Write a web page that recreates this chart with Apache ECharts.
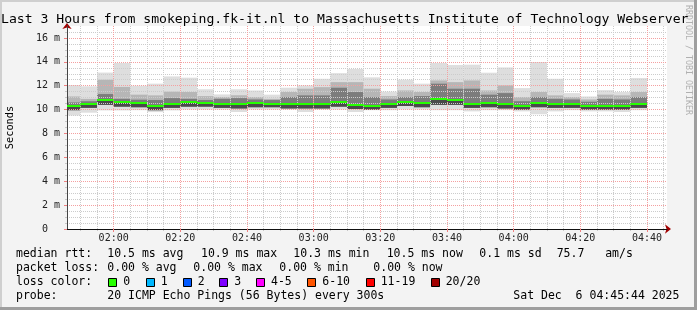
<!DOCTYPE html>
<html><head><meta charset="utf-8">
<script src="https://cdn.jsdelivr.net/npm/echarts@6/dist/echarts.min.js"></script>
<style>html,body{margin:0;padding:0;background:#f3f3f3;}#c{width:697px;height:310px;}</style>
</head><body><div id="c"></div>
<script>
// ---------- data ----------
const titleText = 'Last 3 Hours from smokeping.fk-it.nl to Massachusetts Institute of Technology Webserver';
const axisStart = '01:46';
const axisEnd = '04:46';
const stepEnds = ['01:50','01:55','02:00','02:05','02:10','02:15','02:20','02:25','02:30','02:35','02:40','02:45',
  '02:50','02:55','03:00','03:05','03:10','03:15','03:20','03:25','03:30','03:35','03:40','03:45',
  '03:50','03:55','04:00','04:05','04:10','04:15','04:20','04:25','04:30','04:35','04:40'];
const maxMs = [12.05,11.95,13.1,13.9,12.0,12.17,12.78,12.67,11.7,11.27,11.7,11.6,
  11.25,11.83,12.02,12.58,13.05,13.4,12.7,11.5,12.5,12.17,13.9,13.73,
  13.76,13.09,13.53,11.8,13.98,12.58,11.38,11.1,11.63,11.47,12.64];
const midMs = [11.1,10.9,12.5,11.9,11.25,11.19,11.5,11.47,11.13,11.05,11.2,11.05,
  10.9,11.47,11.75,11.88,12.3,12.3,11.75,11.13,11.6,11.47,12.44,12.3,
  12.44,11.6,12.02,11.05,11.47,11.19,11.05,10.85,11.25,11.19,11.47];
const darkMs = [10.6,10.7,11.3,10.9,10.83,10.8,10.96,10.9,10.8,10.9,10.96,10.85,
  10.8,11.05,11.19,11.19,11.83,11.47,11.05,10.85,11.05,11.13,12.17,11.75,
  11.75,11.25,11.38,10.7,11.05,10.9,10.85,10.66,10.9,10.85,11.05];
const medianMs = [10.27,10.46,10.8,10.6,10.52,10.27,10.46,10.6,10.55,10.44,10.46,10.55,
  10.5,10.43,10.43,10.43,10.6,10.38,10.3,10.49,10.66,10.55,10.92,10.83,
  10.49,10.55,10.43,10.3,10.55,10.47,10.5,10.33,10.33,10.33,10.46];
const lowMs = [9.95,10.15,10.4,10.25,10.2,9.95,10.15,10.25,10.25,10.15,10.1,10.2,
  10.2,10.1,10.1,10.1,10.25,10.05,10.0,10.15,10.3,10.2,10.4,10.4,
  10.15,10.2,10.1,10.0,10.2,10.15,10.15,10.0,10.0,10.0,10.15];
const minMs = [9.5,9.74,9.93,9.93,9.95,9.79,9.93,10.0,10.0,10.0,9.8,10.0,
  10.0,10.0,9.8,10.0,10.0,9.8,9.95,9.95,10.0,10.0,9.95,9.95,
  9.85,9.95,9.95,9.85,9.6,9.85,9.95,9.85,9.85,9.8,9.95];
const xTickLabels = ['02:00','02:20','02:40','03:00','03:20','03:40','04:00','04:20','04:40'];
const yTickValues = [0,2,4,6,8,10,12,14,16];
const yMaxMs = 17;
const rttStats = ['median rtt:','10.5 ms avg','10.9 ms max','10.3 ms min','10.5 ms now','0.1 ms sd','75.7   am/s'];
const lossStats = ['packet loss:','0.00 % avg','0.00 % max','0.00 % min','0.00 % now'];
const lossLabels = ['0','1','2','3','4-5','6-10','11-19','20/20'];
const probeRow = ['probe:','20 ICMP Echo Pings (56 Bytes) every 300s','Sat Dec  6 04:45:44 2025'];
const watermark = 'RRDTOOL / TOBI OETIKER';
const yName = 'Seconds';
const stepMinutes = 5;

// ---------- styles / layout ----------
const lossColors = ['#26ff00','#00b8ff','#0059ff','#7e00ff','#ff00ff','#ff5500','#ff0000','#a10000'];
const MONO = '"DejaVu Sans Mono", monospace';
const toMin = s => { const p = s.split(':'); return (+p[0]) * 60 + (+p[1]); };
const fmtMin = v => { const h = Math.floor(v / 60), m = Math.round(v % 60); return String(h).padStart(2,'0') + ':' + String(m).padStart(2,'0'); };
const xMin = toMin(axisStart), xMax = toMin(axisEnd);
const majorX = xTickLabels.map(toMin);
const minorX = [];
for (let m = Math.ceil(xMin / 5) * 5; m < xMax; m += 5) if (majorX.indexOf(m) < 0) minorX.push(m);
const minorY = [];
for (let v = 0.5; v < yMaxMs; v += 0.5) if (yTickValues.indexOf(v) < 0) minorY.push(v);

const smokeData = stepEnds.map((t, i) => [toMin(t), minMs[i], lowMs[i], medianMs[i], darkMs[i], midMs[i], maxMs[i]]);

function rectBetween(api, t0, t1, lo, hi, fill) {
  const a = api.coord([t0, hi]), b = api.coord([t1, lo]);
  return { type: 'rect', shape: { x: a[0], y: a[1], width: b[0] - a[0], height: b[1] - a[1] }, style: { fill: fill } };
}
function smokeItem(params, api) {
  const t1 = api.value(0), t0 = Math.max(t1 - stepMinutes, xMin);
  const mn = api.value(1), lo = api.value(2), md = api.value(3), dk = api.value(4), mid = api.value(5), mx = api.value(6);
  return { type: 'group', children: [
    rectBetween(api, t0, t1, mn, mx, '#dedede'),
    rectBetween(api, t0, t1, lo, mid, '#b6b6b6'),
    rectBetween(api, t0, t1, lo, dk, '#7c7c7c'),
    rectBetween(api, t0, t1, lo, md, '#4a4a4a')
  ]};
}
function medianItem(params, api) {
  const t1 = api.value(0), t0 = Math.max(t1 - stepMinutes, xMin);
  const a = api.coord([t0, api.value(3)]), b = api.coord([t1, api.value(3)]);
  const y = Math.round(a[1]) - 1;
  return { type: 'rect', shape: { x: a[0], y: y, width: b[0] - a[0], height: 2 }, style: { fill: lossColors[0] } };
}

const graphics = [];
// frame
graphics.push({ type:'rect', left:0, top:0, shape:{width:697,height:2}, style:{fill:'#cfcfcf'}, z:100 });
graphics.push({ type:'rect', left:0, top:0, shape:{width:2,height:310}, style:{fill:'#cfcfcf'}, z:100 });
graphics.push({ type:'rect', right:0, top:0, shape:{width:3,height:310}, style:{fill:'#9e9e9e'}, z:100 });
graphics.push({ type:'rect', left:0, bottom:0, shape:{width:697,height:3}, style:{fill:'#9e9e9e'}, z:100 });
// watermark
graphics.push({ type:'text', x:684.5, y:5, rotation:-Math.PI/2, style:{ text: watermark, font:'8.3px ' + MONO, fill:'#b0b0b0', align:'left', verticalAlign:'bottom' } });
// legend rows
const legendFont = '11.5px ' + MONO;
function txt(x, y, s) { graphics.push({ type:'text', x:x, y:y, style:{ text:s, font:legendFont, fill:'#000', align:'left', verticalAlign:'middle' } }); }
const rowY = [254.5, 268.5, 282.5, 296];
const rttX = [16, 107.3, 201, 293.3, 386.7, 479.3, 556.7];
rttStats.forEach((s, i) => txt(rttX[i], rowY[0], s));
const lossX = [16, 107.3, 193.3, 279.3, 373.3];
lossStats.forEach((s, i) => txt(lossX[i], rowY[1], s));
txt(16, rowY[2], 'loss color:');
const boxX = [108.3, 145.7, 182.7, 219.3, 256, 307.3, 365.7, 430.7];
lossLabels.forEach((s, i) => {
  graphics.push({ type:'rect', x: Math.round(boxX[i]) + 0.5, y: 278.5, shape:{width:8,height:8}, style:{ fill: lossColors[i], stroke:'#000', lineWidth:1 } });
  txt(boxX[i] + 15, rowY[2], s);
});
const probeX = [16, 107.3, 513.3];
probeRow.forEach((s, i) => txt(probeX[i], rowY[3], s));

const option = {
  animation: false,
  backgroundColor: '#f3f3f3',
  title: { text: titleText, left: 1, top: 13, padding: 0,
    textStyle: { fontFamily: MONO, fontSize: 13.13, fontWeight: 'normal', color: '#000' } },
  grid: { left: 67, right: 30, top: 26, bottom: 81, show: true, backgroundColor: '#ffffff', borderWidth: 0, containLabel: false, outerBoundsMode: 'none' },
  xAxis: [
    { type: 'value', position: 'bottom', min: xMin, max: xMax, z: 2,
      axisLine: { show: true, lineStyle: { color: '#a10000', width: 1 }, symbol: ['none', 'arrow'], symbolSize: [7, 6], symbolOffset: [0, 4] },
      axisTick: { show: true, length: 2, customValues: minorX, lineStyle: { color: '#c8c8c8' } },
      axisLabel: { show: false, customValues: minorX },
      splitLine: { show: true, lineStyle: { color: '#cccccc', width: 1, type: [1, 1] } } },
    { type: 'value', position: 'bottom', min: xMin, max: xMax, z: 3,
      axisLine: { show: true, lineStyle: { color: '#111', width: 1 } },
      axisTick: { show: true, length: 3, customValues: majorX, lineStyle: { color: '#f08080' } },
      axisLabel: { show: true, customValues: majorX, formatter: fmtMin, margin: 4, fontFamily: MONO, fontSize: 10, color: '#222' },
      splitLine: { show: true, lineStyle: { color: '#f4a0a0', width: 1, type: [1, 1] } } }
  ],
  yAxis: [
    { type: 'value', position: 'left', min: 0, max: yMaxMs, z: 2,
      axisLine: { show: true, lineStyle: { color: '#a10000', width: 1 }, symbol: ['none', 'arrow'], symbolSize: [7, 6], symbolOffset: [0, 3] },
      axisTick: { show: true, length: 2, customValues: minorY, lineStyle: { color: '#c8c8c8' } },
      axisLabel: { show: false, customValues: minorY },
      splitLine: { show: true, lineStyle: { color: '#cccccc', width: 1, type: [1, 1] } } },
    { type: 'value', position: 'left', min: 0, max: yMaxMs, z: 3,
      name: yName, nameLocation: 'middle', nameGap: 52, nameRotate: 90,
      nameTextStyle: { fontFamily: MONO, fontSize: 10.3, color: '#000' },
      axisLine: { show: true, lineStyle: { color: '#444', width: 1 } },
      axisTick: { show: true, length: 3, customValues: yTickValues, lineStyle: { color: '#f08080' } },
      axisLabel: { show: true, customValues: yTickValues, margin: 7, fontFamily: MONO, fontSize: 10, color: '#222',
        formatter: v => v === 0 ? '0  ' : v + ' m' },
      splitLine: { show: true, lineStyle: { color: '#f4a0a0', width: 1, type: [1, 1] } } }
  ],
  graphic: graphics,
  series: [
    { type: 'custom', xAxisIndex: 1, yAxisIndex: 1, z: 1, silent: true, clip: true, renderItem: smokeItem, data: smokeData },
    { type: 'custom', xAxisIndex: 1, yAxisIndex: 1, z: 5, silent: true, clip: true, renderItem: medianItem, data: smokeData }
  ]
};
const chart = echarts.init(document.getElementById('c'), null, { renderer: 'canvas' });
chart.setOption(option);
</script></body></html>
